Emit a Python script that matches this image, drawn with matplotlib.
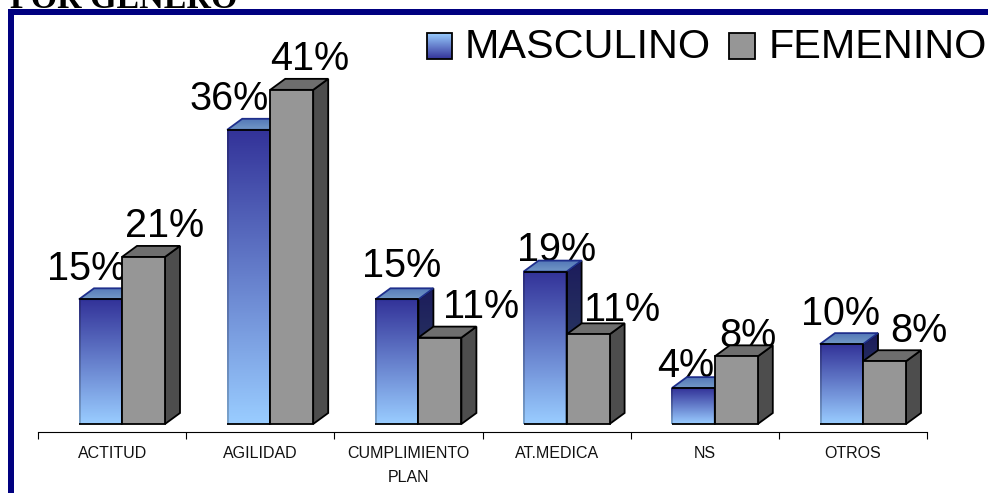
import numpy as np
import matplotlib
matplotlib.use('Agg')
import matplotlib.pyplot as plt
from matplotlib.patches import Polygon, Rectangle

plt.rcParams['font.family'] = ['Liberation Sans', 'DejaVu Sans']

categories = ['ACTITUD', 'AGILIDAD', 'CUMPLIMIENTO\nPLAN', 'AT.MEDICA', 'NS', 'OTROS']
masculino = [15.3, 36.1, 15.3, 18.7, 4.4, 9.8]
femenino = [20.5, 41.0, 10.6, 11.0, 8.3, 7.7]
masc_labels = ['15%', '36%', '15%', '19%', '4%', '10%']
fem_labels = ['21%', '41%', '11%', '11%', '8%', '8%']
series_names = ['MASCULINO', 'FEMENINO']

# hand placed data labels in the original, pixels from group left / bar top
masc_dx = [8, 2, 26, 33, 14, 21]
masc_dy = [19, 20, 22, 11, 11, 19]
fem_dx = [86, 82, 106, 98, 76, 99]
fem_dy = [20, 20, 20, 13, 9, 19]

W, H = 988, 493
PX_X = 148.2    # pixels per category
PX_Y = 8.15     # pixels per percent
BAR_W = 43 / PX_X
OFFSET = 41 / PX_X
DX = 15 / PX_X
DY = 11 / PX_Y
LW = 1.3

DARK = np.array([0x33, 0x33, 0x99]) / 255
LIGHT = np.array([0x99, 0xCC, 0xFF]) / 255


def ramp(top, bottom):
    t = np.linspace(0, 1, 64)[:, None, None]
    return top * (1 - t) + bottom * t


def side_poly(right, value):
    return [(right, 0), (right + DX, DY), (right + DX, value + DY), (right, value)]


def top_poly(left, right, value):
    return [(left, value), (left + DX, value + DY), (right + DX, value + DY), (right, value)]


def draw_bar(ax, left, value, z, blue):
    right = left + BAR_W
    if blue:
        ax.imshow(ramp(DARK, LIGHT), extent=(left, right, 0, value), aspect='auto', zorder=z,
                  interpolation='bilinear')
        # left edge follows the gradient, the other edges are black
        ax.imshow(ramp(DARK * 0.8, LIGHT * 0.8), extent=(left - 0.5 / PX_X, left + 1 / PX_X, 0, value), aspect='auto',
                  zorder=z + 0.2, interpolation='bilinear')
        side = Polygon(side_poly(right, value), closed=True, transform=ax.transData, facecolor='none')
        ax.add_patch(side)
        im = ax.imshow(ramp(np.array([0.11, 0.11, 0.36]), np.array([0.2, 0.3, 0.4])),
                       extent=(right, right + DX, 0, value + DY), aspect='auto', zorder=z, interpolation='bilinear')
        im.set_clip_path(side)
        ax.add_patch(Polygon(side_poly(right, value), closed=True, facecolor='none', edgecolor='black', lw=LW,
                             zorder=z + 0.1))
        tp = Polygon(top_poly(left, right, value), closed=True, transform=ax.transData, facecolor='none')
        ax.add_patch(tp)
        im = ax.imshow(ramp(np.array([0.33, 0.47, 0.72]), np.array([0.45, 0.6, 0.78])),
                       extent=(left, right + DX, value, value + DY), aspect='auto', zorder=z + 0.1,
                       interpolation='bilinear')
        im.set_clip_path(tp)
        ax.add_patch(Polygon(top_poly(left, right, value), closed=True, facecolor='none', edgecolor='#1F2F8C', lw=LW,
                             zorder=z + 0.15))
        ax.plot([left, right, right], [value, value, 0], color='black', lw=LW, zorder=z + 0.3, solid_capstyle='butt')
        ax.plot([left, right], [0, 0], color='black', lw=LW, zorder=z + 0.3, solid_capstyle='butt')
    else:
        ax.add_patch(Polygon(side_poly(right, value), closed=True, facecolor='#4D4D4D', edgecolor='black', lw=LW,
                             zorder=z))
        ax.add_patch(Polygon(top_poly(left, right, value), closed=True, facecolor='#6E6E6E', edgecolor='black', lw=LW,
                             zorder=z + 0.1))
        ax.add_patch(Rectangle((left, 0), BAR_W, value, facecolor='#969696', edgecolor='black', lw=LW, zorder=z + 0.2))


fig = plt.figure(figsize=(W / 100, H / 100), dpi=100, facecolor='white')

# plot area: x axis line at y=432, zero of the bars at y=424
ax = fig.add_axes([38 / W, (H - 432) / H, 6 * PX_X / W, (432 - 20) / H])
for i in range(len(categories)):
    left = i + OFFSET
    draw_bar(ax, left, masculino[i], 3, True)
    draw_bar(ax, left + BAR_W, femenino[i], 4, False)
    # labels sit behind the bars, as in the original
    ax.text(left + masc_dx[i] / PX_X, masculino[i] + masc_dy[i] / PX_Y, masc_labels[i], fontsize=28.5,
            ha='center', va='baseline', zorder=1)
    ax.text(left + fem_dx[i] / PX_X, femenino[i] + fem_dy[i] / PX_Y, fem_labels[i], fontsize=28.5,
            ha='center', va='baseline', zorder=1)

ax.set_xlim(0, 6)
ax.set_ylim(-8 / PX_Y, (424 - 20) / PX_Y)
for s in ['top', 'left', 'right']:
    ax.spines[s].set_visible(False)
ax.spines['bottom'].set_linewidth(0.8)
ax.patch.set_visible(False)
ax.set_yticks([])
ax.set_xticks(range(7))
ax.set_xticklabels([])
ax.tick_params(axis='x', length=5.0, width=0.8, direction='out')
for i, c in enumerate(categories):
    ax.text(i + 0.5, -2.75, c, fontsize=11.5, ha='center', va='top', linespacing=1.7, color='#111111')

# frame around the chart and the cut off title
fig.patches.append(Rectangle((8 / W, 0), 6 / W, (H - 9) / H, transform=fig.transFigure, facecolor='#000080',
                             edgecolor='none'))
fig.patches.append(Rectangle((8 / W, (H - 15) / H), (W - 8) / W, 6 / H, transform=fig.transFigure, facecolor='#000080',
                             edgecolor='none'))
fig.text(10 / W, (H - 8) / H, 'POR GENERO', fontsize=24.5, fontweight='bold', family='Liberation Serif', ha='left',
         va='baseline')

# legend
lax = fig.add_axes([0, 0, 1, 1], facecolor='none')
lax.imshow(ramp(DARK, LIGHT), extent=(427, 452, 59, 33), aspect='auto', interpolation='bilinear', origin='lower')
lax.add_patch(Rectangle((427, 33), 25, 26, facecolor='none', edgecolor='black', lw=LW))
lax.add_patch(Rectangle((729, 33), 26, 26, facecolor='#969696', edgecolor='black', lw=LW))
lax.set_xlim(0, W)
lax.set_ylim(H, 0)
lax.axis('off')
lax.text(465, 58, series_names[0], fontsize=29.8, ha='left', va='baseline')
lax.text(769, 58, series_names[1], fontsize=29.8, ha='left', va='baseline')

fig.savefig('out.png', dpi=100)
